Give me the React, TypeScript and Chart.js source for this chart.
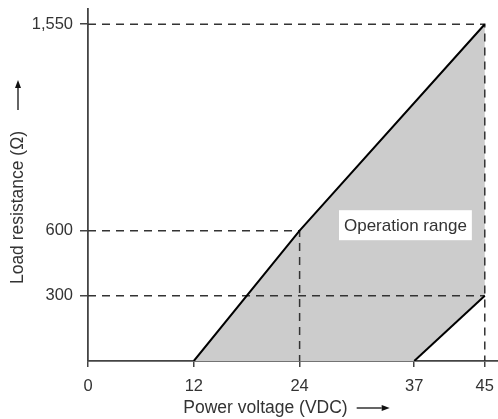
import React, { useEffect, useRef } from 'react';
import { Chart, registerables } from 'chart.js';

Chart.register(...registerables);

// ---- data ----
const xTicks = [0, 12, 24, 37, 45];
const yTicks = [300, 600, 1550];

// operation range polygon (V, Ω)
const rangeX = [12, 24, 45, 45, 37];
const rangeY = [0, 600, 1550, 300, 0];

// solid boundaries
const upperX = [12, 24, 45];
const upperY = [0, 600, 1550];
const lowerX = [37, 45];
const lowerY = [0, 300];

// dashed guide lines
const guide1550X = [0, 45, 45];
const guide1550Y = [1550, 1550, 0];
const guide600X = [0, 24, 24];
const guide600Y = [600, 600, 0];
const guide300X = [0, 45];
const guide300Y = [300, 300];

const X_MAX = 46.5;
const Y_MAX = 1620;

const xTitle = 'Power voltage (VDC)';
const yTitle = 'Load resistance (\u03A9)';
const rangeLabel = 'Operation range';
const rangeLabelAt = [36, 625];

const FONT = "'Liberation Sans', Arial, Helvetica, sans-serif";
const TEXT = '#333333';

const pts = (xs: number[], ys: number[]) => xs.map((x, i) => ({ x, y: ys[i] }));

function drawArrow(ctx: CanvasRenderingContext2D, x1: number, y1: number, x2: number, y2: number) {
  const ang = Math.atan2(y2 - y1, x2 - x1);
  const head = 8;
  const half = 3;
  ctx.beginPath();
  ctx.moveTo(x1, y1);
  ctx.lineTo(x2 - head * Math.cos(ang), y2 - head * Math.sin(ang));
  ctx.lineWidth = 1.3;
  ctx.strokeStyle = '#111';
  ctx.stroke();
  ctx.beginPath();
  ctx.moveTo(x2, y2);
  ctx.lineTo(x2 - head * Math.cos(ang) + half * Math.sin(ang), y2 - head * Math.sin(ang) - half * Math.cos(ang));
  ctx.lineTo(x2 - head * Math.cos(ang) - half * Math.sin(ang), y2 - head * Math.sin(ang) + half * Math.cos(ang));
  ctx.closePath();
  ctx.fillStyle = '#111';
  ctx.fill();
}

function drawTitleGroup(ctx: CanvasRenderingContext2D, text: string, gap: number, arrowLen: number) {
  ctx.font = `17.5px ${FONT}`;
  const w = ctx.measureText(text).width;
  const total = w + gap + arrowLen;
  const start = -total / 2;
  ctx.fillStyle = TEXT;
  ctx.textAlign = 'left';
  ctx.textBaseline = 'middle';
  ctx.fillText(text, start, 0);
  drawArrow(ctx, start + w + gap, 0, start + total, 0);
}

const decorations = {
  id: 'decorations',
  afterDraw(chart: any) {
    const { ctx, chartArea, scales } = chart;
    ctx.save();
    // operation range label
    ctx.font = `17px ${FONT}`;
    const lx = scales.x.getPixelForValue(rangeLabelAt[0]);
    const ly = scales.y.getPixelForValue(rangeLabelAt[1]);
    const tw = ctx.measureText(rangeLabel).width;
    const bw = tw + 10;
    const bh = 30;
    ctx.fillStyle = '#ffffff';
    ctx.fillRect(lx - bw / 2, ly - bh / 2, bw, bh);
    ctx.fillStyle = TEXT;
    ctx.textAlign = 'center';
    ctx.textBaseline = 'middle';
    ctx.fillText(rangeLabel, lx, ly + 1);

    // x title
    ctx.save();
    ctx.translate((chartArea.left + chartArea.right) / 2 - 6.5, 408);
    drawTitleGroup(ctx, xTitle, 9, 33);
    ctx.restore();

    // y title
    ctx.save();
    ctx.translate(18, (chartArea.top + chartArea.bottom) / 2 - 3);
    ctx.rotate(-Math.PI / 2);
    drawTitleGroup(ctx, yTitle, 21, 30);
    ctx.restore();

    ctx.restore();
  },
};

export default function App() {
  const ref = useRef<HTMLCanvasElement | null>(null);

  useEffect(() => {
    document.body.style.margin = '0';
    if (!ref.current) return;
    const dashed = (xs: number[], ys: number[]) => ({
      data: pts(xs, ys),
      showLine: true,
      borderColor: '#333333',
      borderWidth: 1.5,
      borderDash: [8, 6],
      pointRadius: 0,
      fill: false,
      order: 2,
    });
    const solid = (xs: number[], ys: number[]) => ({
      data: pts(xs, ys),
      showLine: true,
      borderColor: '#000000',
      borderWidth: 2,
      pointRadius: 0,
      fill: false,
      order: 1,
    });
    const chart = new Chart(ref.current, {
      type: 'scatter',
      data: {
        datasets: [
          {
            data: pts(rangeX, rangeY),
            showLine: true,
            borderWidth: 0,
            borderColor: 'rgba(0,0,0,0)',
            backgroundColor: '#cccccc',
            pointRadius: 0,
            fill: 'shape',
            order: 3,
          } as any,
          dashed(guide1550X, guide1550Y),
          dashed(guide600X, guide600Y),
          dashed(guide300X, guide300Y),
          solid(upperX, upperY),
          solid(lowerX, lowerY),
        ],
      },
      options: {
        responsive: false,
        animation: false,
        layout: { padding: { top: 9, right: 0, left: 0, bottom: 0 } },
        plugins: {
          legend: { display: false },
          tooltip: { enabled: false },
        },
        scales: {
          x: {
            type: 'linear',
            min: 0,
            max: X_MAX,
            z: 1,
            afterBuildTicks: (s: any) => {
              s.ticks = xTicks.map((v) => ({ value: v }));
            },
            afterFit: (s: any) => {
              s.height = 58;
              s.paddingLeft = 0;
              s.paddingRight = 0;
            },
            grid: {
              drawOnChartArea: false,
              drawTicks: true,
              tickLength: 6,
              color: '#444444',
              lineWidth: 1.5,
            },
            border: { display: true, color: '#444444', width: 1.8 },
            ticks: {
              color: TEXT,
              font: { family: FONT, size: 16.5 },
              padding: 10,
              maxRotation: 0,
              autoSkip: false,
            },
            title: { display: false },
          },
          y: {
            type: 'linear',
            min: 0,
            max: Y_MAX,
            z: 1,
            afterBuildTicks: (s: any) => {
              s.ticks = yTicks.map((v) => ({ value: v }));
            },
            afterFit: (s: any) => {
              s.width = 88;
              s.paddingTop = 0;
              s.paddingBottom = 0;
            },
            grid: {
              drawOnChartArea: false,
              drawTicks: true,
              tickLength: 8,
              color: '#444444',
              lineWidth: 1.5,
            },
            border: { display: true, color: '#444444', width: 1.8 },
            ticks: {
              color: TEXT,
              font: { family: FONT, size: 16.5 },
              padding: 7,
              autoSkip: false,
            },
            title: { display: false },
          },
        },
      },
      plugins: [decorations],
    });
    return () => chart.destroy();
  }, []);

  return (
    <div style={{ width: 498, height: 419 }}>
      <canvas ref={ref} width={498} height={419} style={{ display: 'block' }} />
    </div>
  );
}
